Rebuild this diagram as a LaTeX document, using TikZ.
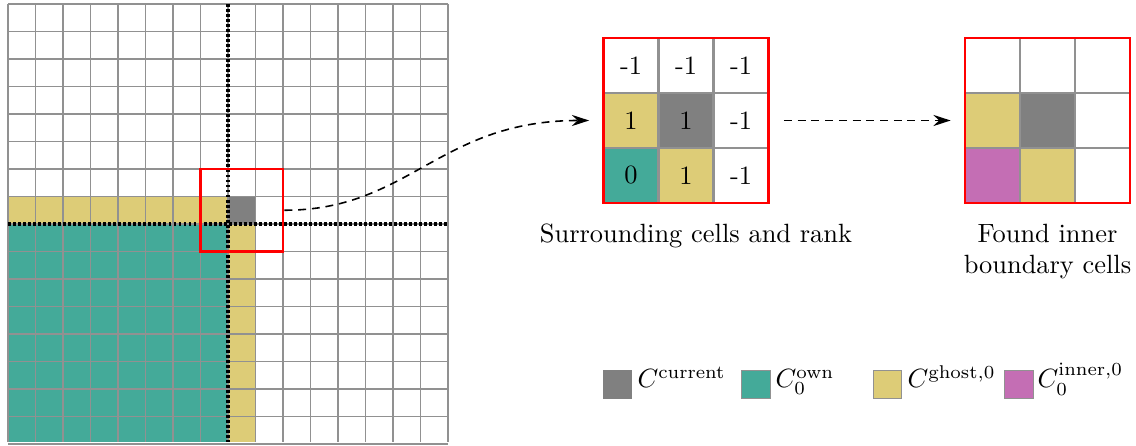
\documentclass[tikz,border=0pt]{standalone}
\usepackage{amsmath}
\usetikzlibrary{arrows.meta}
\definecolor{ownteal}{RGB}{68,170,153}
\definecolor{ghostsand}{RGB}{221,204,119}
\definecolor{innerpink}{RGB}{196,110,180}
\definecolor{curgray}{RGB}{128,128,128}
\definecolor{linegray}{RGB}{145,145,145}

\begin{document}
\begin{tikzpicture}[x=0.3788pt, y=-0.3788pt,
  gridline/.style={draw=linegray, line width=0.6pt},
  partline/.style={line width=1.2pt, dash pattern=on 1.1pt off 0.8pt},
  redframe/.style={draw=red, line width=1.1pt, inner sep=0pt, minimum size=#1},
  cellbox/.style={draw=linegray, line width=0.8pt, inner sep=0pt, minimum size=20.83pt},
  flowarrow/.style={line width=0.6pt, dash pattern=on 3pt off 2.2pt,
    -{Stealth[length=6.5pt,width=4.2pt]}},
  key/.style={draw=linegray, line width=0.4pt, minimum size=10.8pt, inner sep=0pt},
  keytext/.style={anchor=base west, inner sep=0pt},
]
\useasboundingbox (0,0) rectangle (1136,446);

% left domain: 16 x 16 cells, rank 0 owns the lower left block
\fill[ownteal] (8,224) rectangle (228,442);
\fill[ghostsand] (8,196.5) rectangle (228,224);
\fill[ghostsand] (228,224) rectangle (255.5,442);
\fill[curgray] (228,196.5) rectangle (255.5,224);
\foreach \i in {0,...,16} {
  \draw[gridline] (8+27.5*\i,4) -- (8+27.5*\i,442);
  \draw[gridline] (8,4+27.5*\i) -- (448,4+27.5*\i);
}
% partition borders
\draw[partline] (228,4) -- (228,442);
\draw[partline] (8,224) -- (448,224);
% 3x3 window around the current cell
\node[redframe=31.25pt] (win) at (241.75,210.25) {};

% surrounding cells with their ranks
\foreach \r/\c/\f/\t in {0/0/white/-1, 0/1/white/-1, 0/2/white/-1,
                         1/0/ghostsand/1, 1/1/curgray/1, 1/2/white/-1,
                         2/0/ownteal/0, 2/1/ghostsand/1, 2/2/white/-1}
  \node[cellbox, fill=\f] (m-\r-\c) at (631+55*\c, 65.5+55*\r) {\t};
\node[redframe=62.5pt] (mid) at (686,120.5) {};

% resulting inner boundary cells
\foreach \r/\c/\f in {0/0/white, 0/1/white, 0/2/white,
                      1/0/ghostsand, 1/1/curgray, 1/2/white,
                      2/0/innerpink, 2/1/ghostsand, 2/2/white}
  \node[cellbox, fill=\f] (f-\r-\c) at (992.5+55*\c, 65.5+55*\r) {};
\node[redframe=62.5pt] (fnd) at (1047.5,120.5) {};

% connectors
\draw[flowarrow, shorten >=4.9pt] (win.east) .. controls +(125,0) and +(-163,0) .. (mid.west);
\draw[flowarrow, shorten <=5.3pt, shorten >=4.9pt] (mid.east) -- (fnd.west);

% captions
\node[anchor=base, inner sep=0pt] (capmid) at (696,243) {Surrounding cells and rank};
\node[anchor=base, align=center, inner sep=0pt] (capfnd) at (1047.5,274) {Found inner\\boundary cells};

% legend
\node[key, fill=curgray, draw=curgray] (k1) at (617.5,384.5) {};
\node[keytext] (t1) at (637,388) {$C^{\mathrm{current}}$};
\node[key, fill=ownteal] (k2) at (756,384.5) {};
\node[keytext] (t2) at (775,388) {$C_0^{\mathrm{own}}$};
\node[key, fill=ghostsand] (k3) at (887.5,384.5) {};
\node[keytext] (t3) at (907,388) {$C^{\mathrm{ghost},0}$};
\node[key, fill=innerpink] (k4) at (1019,384.5) {};
\node[keytext] (t4) at (1037,388) {$C_0^{\mathrm{inner},0}$};
\end{tikzpicture}
\end{document}
